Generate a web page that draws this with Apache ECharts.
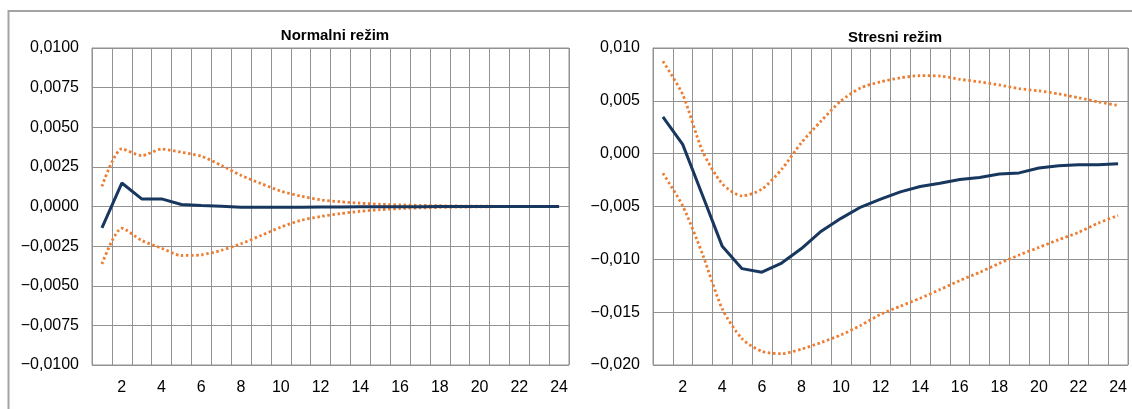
<!DOCTYPE html>
<html>
<head>
<meta charset="utf-8">
<script src="https://cdn.jsdelivr.net/npm/echarts@6/dist/echarts.min.js"></script>
<style>
html,body{margin:0;padding:0;background:#fff;}
#chart{width:1132px;height:409px;}
</style>
</head>
<body>
<div id="chart"></div>
<script>
// Categories (horizon, periods)
const categories = ['1','2','3','4','5','6','7','8','9','10','11','12','13','14','15','16','17','18','19','20','21','22','23','24'];

// Normal regime
const normalMain  = [-0.00135, 0.00148, 0.00048, 0.00048, 0.00013, 0.00006, 0.00002, -0.00004, -0.00005, -0.00005, -0.00004, -0.00003, -0.00003, -0.00002, -0.00002, -0.00001, -0.00001, 0, 0, 0, 0, 0, 0, 0];
const normalUpper = [0.00127, 0.00364, 0.00321, 0.00362, 0.00342, 0.00317, 0.00260, 0.00196, 0.00145, 0.00097, 0.00066, 0.00042, 0.00030, 0.00021, 0.00014, 0.00010, 0.00007, 0.00005, 0.00003, 0.00002, 0.00001, 0, 0, 0];
const normalLower = [-0.00363, -0.00137, -0.00214, -0.00263, -0.00309, -0.00305, -0.00277, -0.00235, -0.00183, -0.00130, -0.00088, -0.00063, -0.00045, -0.00030, -0.00020, -0.00013, -0.00009, -0.00006, -0.00004, -0.00002, -0.00001, 0, 0, 0];

// Stress regime
const stressMain  = [0.00349, 0.00088, -0.00393, -0.00877, -0.01088, -0.01122, -0.01035, -0.00898, -0.00734, -0.00612, -0.00505, -0.00431, -0.00362, -0.00311, -0.00280, -0.00245, -0.00225, -0.00192, -0.00182, -0.00135, -0.00114, -0.00106, -0.00106, -0.00095];
const stressUpper = [0.00874, 0.00560, 0.00025, -0.00285, -0.00400, -0.00336, -0.00148, 0.00104, 0.00310, 0.00500, 0.00623, 0.00680, 0.00718, 0.00738, 0.00735, 0.00704, 0.00680, 0.00650, 0.00616, 0.00594, 0.00566, 0.00530, 0.00490, 0.00456];
const stressLower = [-0.00186, -0.00494, -0.00950, -0.01469, -0.01752, -0.01871, -0.01893, -0.01850, -0.01787, -0.01715, -0.01625, -0.01520, -0.01443, -0.01368, -0.01286, -0.01201, -0.01123, -0.01038, -0.00959, -0.00887, -0.00814, -0.00745, -0.00657, -0.00585];

// Titles and axis ranges
const titles = ['Normalni režim', 'Stresni režim'];
const normalAxis = {min: -0.01, max: 0.01, interval: 0.0025, decimals: 4};
const stressAxis = {min: -0.02, max: 0.01, interval: 0.005, decimals: 3};

function fmt(decimals) {
  return function (v) {
    if (Math.abs(v) < 1e-12) v = 0;
    let s = Math.abs(v).toFixed(decimals).replace('.', ',');
    return (v < 0 ? '\u2212' : '') + s;
  };
}

const FONT = 'Liberation Sans, Arial, sans-serif';
const gridColor = '#929292';
const mainColor = '#17375e';
const bandColor = '#ed7d31';

function xAxis(gridIndex) {
  return {
    type: 'category', gridIndex: gridIndex, data: categories, boundaryGap: true,
    axisLine: {show: true, lineStyle: {color: gridColor, width: 1}},
    axisTick: {show: false},
    splitLine: {show: true, interval: 0, lineStyle: {color: gridColor, width: 1}},
    axisLabel: {
      interval: 0, margin: 15, color: '#000', fontFamily: FONT, fontSize: 16,
      formatter: function (v, i) { return i % 2 === 1 ? v : ''; }
    }
  };
}
function yAxis(gridIndex, ax) {
  return {
    type: 'value', gridIndex: gridIndex, min: ax.min, max: ax.max, interval: ax.interval,
    axisLine: {show: true, lineStyle: {color: gridColor, width: 1}},
    axisTick: {show: false},
    splitLine: {show: true, lineStyle: {color: gridColor, width: 1}},
    axisLabel: {margin: 13, color: '#000', fontFamily: FONT, fontSize: 16, formatter: fmt(ax.decimals)}
  };
}
function mainSeries(idx, data) {
  return {type: 'line', xAxisIndex: idx, yAxisIndex: idx, data: data, symbol: 'none',
    smooth: false, z: 5, lineStyle: {color: mainColor, width: 3}};
}
function bandSeries(idx, data) {
  return {type: 'line', xAxisIndex: idx, yAxisIndex: idx, data: data, symbol: 'none',
    smooth: 0.25, z: 4, lineStyle: {color: bandColor, width: 2.8, type: [2.5, 2.6], cap: 'butt'}};
}

const chart = echarts.init(document.getElementById('chart'), null, {renderer: 'canvas'});
chart.setOption({
  backgroundColor: '#fff',
  animation: false,
  graphic: [{
    type: 'rect', shape: {x: 8.5, y: 11, width: 2000, height: 2000},
    style: {fill: 'none', stroke: '#a3a3a3', lineWidth: 2}, z: -10, silent: true
  }],
  title: [
    {text: titles[0], left: 330, top: 23, textAlign: 'center',
     textStyle: {fontFamily: FONT, fontSize: 15, fontWeight: 'bold', color: '#000'}},
    {text: titles[1], left: 890, top: 25, textAlign: 'center',
     textStyle: {fontFamily: FONT, fontSize: 15, fontWeight: 'bold', color: '#000'}}
  ],
  grid: [
    {left: 92, right: 563, top: 48, bottom: 44, show: true, borderColor: gridColor, borderWidth: 1, backgroundColor: 'transparent'},
    {left: 653, right: 4, top: 48, bottom: 44, show: true, borderColor: gridColor, borderWidth: 1, backgroundColor: 'transparent'}
  ],
  xAxis: [xAxis(0), xAxis(1)],
  yAxis: [yAxis(0, normalAxis), yAxis(1, stressAxis)],
  series: [
    bandSeries(0, normalUpper), bandSeries(0, normalLower), mainSeries(0, normalMain),
    bandSeries(1, stressUpper), bandSeries(1, stressLower), mainSeries(1, stressMain)
  ]
});
</script>
</body>
</html>
